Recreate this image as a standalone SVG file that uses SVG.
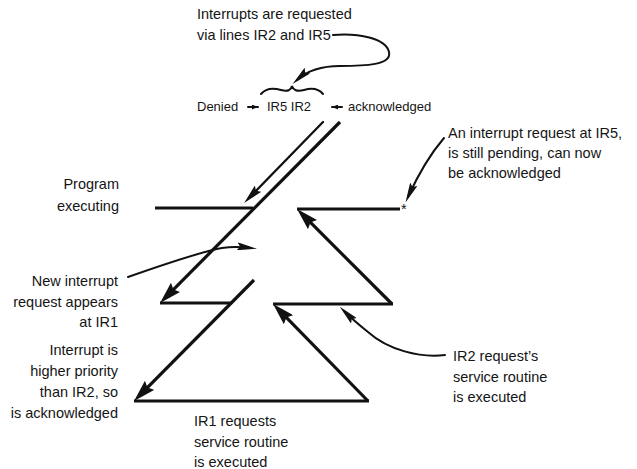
<svg xmlns="http://www.w3.org/2000/svg" width="637" height="469" viewBox="0 0 637 469">
<style>
.t{font-family:"Liberation Sans",Arial,sans-serif;font-size:14.5px;fill:#151515}
.s{font-size:13px}
.e{text-anchor:end}
.main{stroke:#111;stroke-width:3.2;fill:none;stroke-linecap:butt}
.thin{stroke:#111;stroke-width:2.3;fill:none;stroke-linecap:round}
.call{stroke:#111;stroke-width:2;fill:none;stroke-linecap:round}
</style>
<defs>
<marker id="big" viewBox="0 0 22 13" refX="14" refY="6.5" markerWidth="22" markerHeight="13" markerUnits="userSpaceOnUse" orient="auto">
<path d="M0,0 L22,6.5 L0,13 L3,6.5 z" fill="#111"/>
</marker>
<marker id="mid" viewBox="0 0 20 9" refX="13" refY="4.5" markerWidth="20" markerHeight="9" markerUnits="userSpaceOnUse" orient="auto">
<path d="M0,0 L20,4.5 L0,9 L3,4.5 z" fill="#111"/>
</marker>
<marker id="sm" viewBox="0 0 20 8" refX="14" refY="4" markerWidth="20" markerHeight="8" markerUnits="userSpaceOnUse" orient="auto">
<path d="M0,0 L20,4 L0,8 L3,4 z" fill="#111"/>
</marker>
<marker id="tiny" viewBox="0 0 6 5" refX="6" refY="2.5" markerWidth="6" markerHeight="5" markerUnits="userSpaceOnUse" orient="auto">
<path d="M0,0 L6,2.5 L0,5 z" fill="#111"/>
</marker>
</defs>

<g id="connectors">
<line class="main" x1="155" y1="208" x2="253" y2="208"/>
<line class="main" x1="340" y1="122" x2="165.7" y2="297.3" marker-end="url(#big)"/>
<line class="thin" x1="323" y1="122" x2="249" y2="198" marker-end="url(#mid)"/>
<line class="main" x1="160" y1="303" x2="231" y2="303"/>
<line class="main" x1="254" y1="280" x2="139.7" y2="395.3" marker-end="url(#big)"/>
<line class="main" x1="134" y1="401" x2="369" y2="401"/>
<line class="main" x1="368" y1="401" x2="278.7" y2="309.7" marker-end="url(#big)"/>
<line class="main" x1="273" y1="304" x2="393" y2="304"/>
<line class="main" x1="392" y1="304" x2="302.7" y2="214.7" marker-end="url(#big)"/>
<line class="main" x1="297" y1="209" x2="400" y2="209"/>
<path class="call" d="M333,35 C358,33 386,38 389,52 C392,65 365,66 340,66 C322,66 308,70 297,80" stroke-width="2.5" marker-end="url(#sm)"/>
<path class="call" d="M261,94 C266,88 274,88 281,90 C288,92 291,90 292,86 C293,90 297,92 304,90 C311,88 318,88 323,94"/>
<path class="call" d="M128,277 C165,264 200,252 222,248 C235,246 243,247 251,248" marker-end="url(#sm)"/>
<path class="call" d="M444,138 C432,152 418,175 408,197" marker-end="url(#sm)"/>
<path class="call" d="M445,355 C420,358 388,350 368,332 C358,324 350,317 344,311" marker-end="url(#sm)"/>
<line class="call" x1="248" y1="107" x2="258" y2="107" stroke-width="1.3" marker-end="url(#tiny)"/>
<line class="call" x1="342" y1="107" x2="332" y2="107" stroke-width="1.3" marker-end="url(#tiny)"/>
</g>

<g id="top-note">
<text class="t" x="197" y="19">Interrupts are requested</text>
<text class="t" x="197" y="40">via lines IR2 and IR5</text>
</g>
<g id="status-line">
<text class="t s" x="197" y="111">Denied</text>
<text class="t s" x="267" y="111">IR5 IR2</text>
<text class="t s" x="348" y="111">acknowledged</text>
</g>
<g id="pending-note">
<text class="t" x="448" y="138">An interrupt request at IR5,</text>
<text class="t" x="448" y="158">is still pending, can now</text>
<text class="t" x="448" y="178">be acknowledged</text>
<text class="t" x="401" y="214" font-size="10">*</text>
</g>
<g id="program-note">
<text class="t e" x="119" y="189">Program</text>
<text class="t e" x="119" y="211">executing</text>
</g>
<g id="new-request-note">
<text class="t e" x="118" y="286">New interrupt</text>
<text class="t e" x="118" y="307">request appears</text>
<text class="t e" x="118" y="327">at IR1</text>
</g>
<g id="priority-note">
<text class="t e" x="118" y="355">Interrupt is</text>
<text class="t e" x="118" y="376">higher priority</text>
<text class="t e" x="118" y="397">than IR2, so</text>
<text class="t e" x="118" y="418">is acknowledged</text>
</g>
<g id="ir1-note">
<text class="t" x="194" y="426">IR1 requests</text>
<text class="t" x="194" y="447">service routine</text>
<text class="t" x="194" y="467">is executed</text>
</g>
<g id="ir2-note">
<text class="t" x="453" y="361">IR2 request’s</text>
<text class="t" x="453" y="382">service routine</text>
<text class="t" x="453" y="402">is executed</text>
</g>
</svg>
